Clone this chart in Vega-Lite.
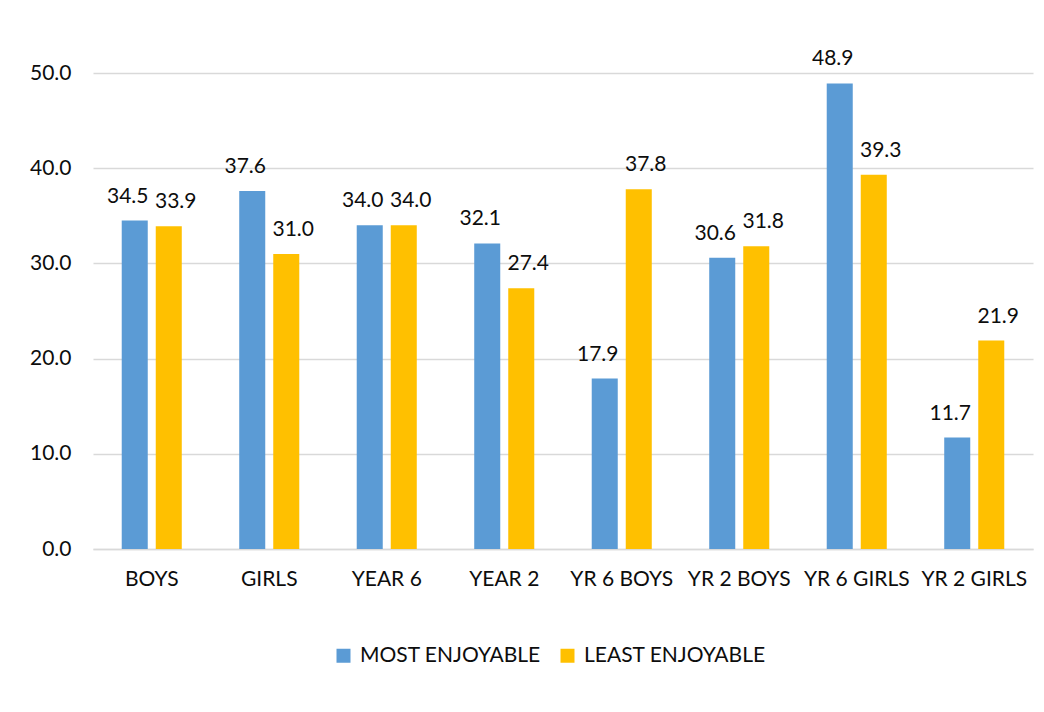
{
  "$schema": "https://vega.github.io/schema/vega-lite/v6.json",
  "width": 940,
  "height": 476,
  "autosize": {"type": "none"},
  "padding": {"left": 93, "top": 73, "right": 11, "bottom": 163},
  "background": "white",
  "config": {
    "view": {"stroke": null},
    "font": "Lato",
    "text": {"font": "Lato"}
  },
  "data": {
    "values": [
      {"group": "BOYS", "series": "MOST ENJOYABLE", "value": 34.5},
      {"group": "BOYS", "series": "LEAST ENJOYABLE", "value": 33.9},
      {"group": "GIRLS", "series": "MOST ENJOYABLE", "value": 37.6},
      {"group": "GIRLS", "series": "LEAST ENJOYABLE", "value": 31.0},
      {"group": "YEAR 6", "series": "MOST ENJOYABLE", "value": 34.0},
      {"group": "YEAR 6", "series": "LEAST ENJOYABLE", "value": 34.0},
      {"group": "YEAR 2", "series": "MOST ENJOYABLE", "value": 32.1},
      {"group": "YEAR 2", "series": "LEAST ENJOYABLE", "value": 27.4},
      {"group": "YR 6 BOYS", "series": "MOST ENJOYABLE", "value": 17.9},
      {"group": "YR 6 BOYS", "series": "LEAST ENJOYABLE", "value": 37.8},
      {"group": "YR 2 BOYS", "series": "MOST ENJOYABLE", "value": 30.6},
      {"group": "YR 2 BOYS", "series": "LEAST ENJOYABLE", "value": 31.8},
      {"group": "YR 6 GIRLS", "series": "MOST ENJOYABLE", "value": 48.9},
      {"group": "YR 6 GIRLS", "series": "LEAST ENJOYABLE", "value": 39.3},
      {"group": "YR 2 GIRLS", "series": "MOST ENJOYABLE", "value": 11.7},
      {"group": "YR 2 GIRLS", "series": "LEAST ENJOYABLE", "value": 21.9}
    ]
  },
  "encoding": {
    "x": {
      "field": "group",
      "type": "nominal",
      "sort": null,
      "scale": {"paddingInner": 0.489, "paddingOuter": 0.2445},
      "axis": {
        "title": null,
        "labelAngle": 0,
        "domain": true,
        "domainColor": "#d9d9d9",
        "domainWidth": 1.5,
        "ticks": false,
        "grid": false,
        "labelFont": "Lato",
        "labelFontSize": 21,
        "labelColor": "#0d0d0d",
        "labelPadding": 19
      }
    },
    "xOffset": {
      "field": "series",
      "type": "nominal",
      "sort": ["MOST ENJOYABLE", "LEAST ENJOYABLE"],
      "scale": {"paddingInner": 0.235, "paddingOuter": 0}
    },
    "y": {
      "field": "value",
      "type": "quantitative",
      "scale": {"domain": [0, 50], "nice": false},
      "axis": {
        "title": null,
        "values": [0, 10, 20, 30, 40, 50],
        "format": ".1f",
        "domain": false,
        "ticks": false,
        "grid": true,
        "gridColor": "#d9d9d9",
        "gridWidth": 1.5,
        "labelFont": "Lato",
        "labelFontSize": 21,
        "labelColor": "#0d0d0d",
        "labelPadding": 22
      }
    }
  },
  "layer": [
    {
      "mark": {"type": "bar"},
      "encoding": {
        "color": {
          "field": "series",
          "type": "nominal",
          "scale": {"domain": ["MOST ENJOYABLE", "LEAST ENJOYABLE"], "range": ["#5B9BD5", "#FFC000"]},
          "legend": {
            "orient": "none",
            "legendX": 240,
            "legendY": 572,
            "direction": "horizontal",
            "title": null,
            "symbolType": "square",
            "symbolSize": 196,
            "symbolStrokeWidth": 0,
            "labelFont": "Lato",
            "labelFontSize": 21,
            "labelColor": "#0d0d0d",
            "labelOffset": 6,
            "columnPadding": 16,
            "labelLimit": 400
          }
        }
      }
    },
    {
      "transform": [{"filter": "datum.series == 'MOST ENJOYABLE'"}],
      "mark": {"type": "text", "baseline": "middle", "dy": -24, "dx": -7, "fontSize": 21, "color": "#0d0d0d"},
      "encoding": {"text": {"field": "value", "type": "quantitative", "format": ".1f"}}
    },
    {
      "transform": [{"filter": "datum.series == 'LEAST ENJOYABLE'"}],
      "mark": {"type": "text", "baseline": "middle", "dy": -24, "dx": 7, "fontSize": 21, "color": "#0d0d0d"},
      "encoding": {"text": {"field": "value", "type": "quantitative", "format": ".1f"}}
    }
  ]
}
